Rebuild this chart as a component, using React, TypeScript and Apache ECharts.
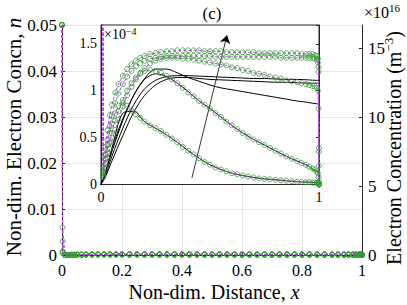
import React, { useEffect, useRef } from 'react';
import * as echarts from 'echarts';

// Shared x positions of the marker series (non-dim. distance)
const xs = [0, 0.002, 0.01, 0.02, 0.03, 0.04, 0.05, 0.065, 0.08, 0.1, 0.12, 0.14, 0.16, 0.18, 0.2, 0.225, 0.25, 0.275, 0.3, 0.325, 0.35, 0.375, 0.4, 0.425, 0.45, 0.475, 0.5, 0.525, 0.55, 0.575, 0.6, 0.625, 0.65, 0.675, 0.7, 0.725, 0.75, 0.775, 0.8, 0.825, 0.85, 0.875, 0.9, 0.92, 0.94, 0.955, 0.97, 0.98, 0.99, 0.995, 0.998, 0.9995, 1];

// Marker series values, in units of 1e-4 (non-dim. n)
const c1 = [500, 60, 0.2, 0.4, 0.58, 0.74, 0.85, 0.98, 1.07, 1.16, 1.23, 1.28, 1.32, 1.35, 1.37, 1.39, 1.40, 1.41, 1.42, 1.42, 1.43, 1.43, 1.43, 1.43, 1.43, 1.42, 1.42, 1.42, 1.42, 1.41, 1.41, 1.41, 1.41, 1.41, 1.41, 1.40, 1.40, 1.40, 1.40, 1.40, 1.40, 1.40, 1.40, 1.39, 1.39, 1.39, 1.39, 1.38, 1.37, 1.34, 1.25, 0.39, 0];
const c2 = [500, 30, 0.15, 0.32, 0.48, 0.62, 0.73, 0.87, 0.97, 1.07, 1.15, 1.21, 1.26, 1.29, 1.32, 1.34, 1.35, 1.36, 1.37, 1.37, 1.37, 1.37, 1.37, 1.37, 1.37, 1.37, 1.37, 1.36, 1.36, 1.36, 1.36, 1.36, 1.36, 1.36, 1.36, 1.36, 1.36, 1.36, 1.36, 1.35, 1.35, 1.35, 1.35, 1.35, 1.35, 1.35, 1.35, 1.34, 1.33, 1.30, 1.20, 0.35, 0];
const c3 = [500, 8, 0.08, 0.18, 0.28, 0.38, 0.46, 0.58, 0.69, 0.83, 0.95, 1.04, 1.12, 1.19, 1.24, 1.29, 1.32, 1.34, 1.35, 1.35, 1.35, 1.34, 1.34, 1.33, 1.32, 1.31, 1.30, 1.29, 1.28, 1.27, 1.25, 1.24, 1.22, 1.21, 1.19, 1.18, 1.17, 1.15, 1.14, 1.13, 1.11, 1.10, 1.09, 1.08, 1.07, 1.06, 1.05, 1.05, 1.03, 1.00, 0.81, 0.2, 0];
const c4 = [500, 6, 0.1, 0.22, 0.34, 0.45, 0.55, 0.68, 0.78, 0.9, 1.0, 1.08, 1.14, 1.18, 1.21, 1.22, 1.21, 1.19, 1.16, 1.12, 1.08, 1.03, 0.98, 0.94, 0.89, 0.85, 0.81, 0.76, 0.72, 0.67, 0.63, 0.59, 0.55, 0.51, 0.48, 0.45, 0.42, 0.39, 0.36, 0.33, 0.30, 0.275, 0.25, 0.23, 0.21, 0.19, 0.17, 0.16, 0.14, 0.12, 0.08, 0.03, 0];
const c5 = [500, 5, 0.12, 0.28, 0.42, 0.55, 0.65, 0.76, 0.84, 0.87, 0.84, 0.79, 0.75, 0.71, 0.67, 0.63, 0.60, 0.57, 0.53, 0.49, 0.45, 0.40, 0.36, 0.32, 0.28, 0.24, 0.21, 0.18, 0.16, 0.14, 0.12, 0.11, 0.095, 0.085, 0.075, 0.065, 0.06, 0.055, 0.05, 0.045, 0.04, 0.035, 0.03, 0.03, 0.025, 0.025, 0.02, 0.02, 0.02, 0.02, 0.015, 0.01, 0];

// Solid black model curves (units of 1e-4)
const kx = [0, 0.02, 0.05, 0.1, 0.15, 0.2, 0.25, 0.3, 0.35, 0.4, 0.45, 0.5, 0.55, 0.6, 0.65, 0.7, 0.75, 0.8, 0.85, 0.9, 0.95, 0.99, 1];
const k1 = [0, 0.12, 0.38, 0.70, 0.95, 1.13, 1.23, 1.23, 1.19, 1.14, 1.10, 1.06, 1.03, 1.01, 0.99, 0.97, 0.95, 0.93, 0.91, 0.89, 0.875, 0.86, 0.86];
const k2 = [0, 0.10, 0.30, 0.60, 0.85, 1.02, 1.11, 1.15, 1.16, 1.16, 1.155, 1.15, 1.145, 1.14, 1.135, 1.13, 1.13, 1.125, 1.12, 1.12, 1.115, 1.11, 1.11];
const k3 = [0, 0.08, 0.25, 0.52, 0.77, 0.95, 1.06, 1.12, 1.14, 1.14, 1.13, 1.12, 1.115, 1.11, 1.105, 1.10, 1.095, 1.09, 1.09, 1.085, 1.08, 1.08, 1.08];
const k4 = [0, 0.12, 0.35, 0.68, 0.95, 1.12, 1.18, 1.15, 1.08, 0.99, 0.89, 0.81, 0.72, 0.63, 0.55, 0.48, 0.42, 0.36, 0.30, 0.25, 0.20, 0.14, 0.14];
const k5 = [0, 0.12, 0.38, 0.76, 0.78, 0.67, 0.60, 0.53, 0.45, 0.36, 0.28, 0.21, 0.16, 0.12, 0.095, 0.075, 0.06, 0.05, 0.04, 0.03, 0.025, 0.02, 0.02];

// Arrow annotation (inset data coords)
const arrowFrom = [0.417, 0.07];
const arrowTo = [0.578, 1.59];

export default function App() {
  const ref = useRef<HTMLDivElement>(null);
  useEffect(() => {
    const chart = echarts.init(ref.current!, null, { renderer: 'svg' });
    const serif = 'Liberation Serif';
    const ax = '#262626';
    const green = '#2f9e2f';
    const magenta = '#c83cf0';
    const grid = '#e6e6e6';
    const circles = [c1, c2, c3, c4, c5];
    const blacks = [k1, k2, k3, k4, k5];
    const series: any[] = [];
    const markerSeries = (vals: number[], xi: number, yi: number, scale: number, z: number) => ({
      type: 'line', xAxisIndex: xi, yAxisIndex: yi, z, silent: true,
      data: xs.map((x, i) => [x, vals[i] * scale]),
      symbol: 'circle', symbolSize: 5,
      lineStyle: { color: magenta, width: 1, type: [3, 2] },
      itemStyle: { color: 'rgba(0,0,0,0)', borderColor: green, borderWidth: 0.8 },
    });
    circles.forEach((v) => series.push(markerSeries(v, 0, 0, 1e-4, 2)));
    blacks.forEach((v) => series.push({
      type: 'line', xAxisIndex: 1, yAxisIndex: 2, z: 5, silent: true,
      data: kx.map((x, i) => [x, v[i]]), showSymbol: false, smooth: 0.3,
      lineStyle: { color: '#000', width: 1 },
    }));
    circles.forEach((v) => series.push(markerSeries(v, 1, 2, 1, 6)));
    series.push({
      type: 'line', xAxisIndex: 1, yAxisIndex: 2, z: 7, data: [], silent: true,
      markLine: {
        silent: true, symbol: ['none', 'arrow'], symbolSize: 8,
        lineStyle: { color: '#000', width: 0.8, type: 'solid' },
        label: { show: false },
        data: [[{ coord: arrowFrom }, { coord: arrowTo }]],
      },
    });

    const tickLabel = (size: number) => ({ fontFamily: serif, fontSize: size, color: '#000' });
    const nameRich = (size: number) => ({
      n: { fontFamily: serif, fontSize: size, fill: '#000' },
      i: { fontFamily: serif, fontSize: size, fontStyle: 'italic', fill: '#000' },
    });
    chart.setOption({
      animation: false,
      grid: [
        { left: 62, top: 25, width: 300, height: 230, show: false },
        { left: 101, top: 25, width: 218, height: 159.5, show: true, z: 3, backgroundColor: '#fff', borderColor: ax, borderWidth: 1 },
      ],
      xAxis: [
        {
          gridIndex: 0, type: 'value', min: 0, max: 1, interval: 0.2,
          axisLine: { lineStyle: { color: ax } },
          axisTick: { inside: true, length: 3, lineStyle: { color: ax } },
          axisLabel: { ...tickLabel(16), margin: 7 },
          splitLine: { show: true, lineStyle: { color: grid } },
        },
        {
          gridIndex: 1, type: 'value', min: 0, max: 1, interval: 1, z: 4,
          axisLine: { lineStyle: { color: ax } },
          axisTick: { inside: true, length: 3, lineStyle: { color: ax } },
          axisLabel: { ...tickLabel(14), margin: 6 },
          splitLine: { show: false },
        },
      ],
      yAxis: [
        {
          gridIndex: 0, type: 'value', min: 0, max: 0.05, interval: 0.01, position: 'left',
          axisLine: { show: true, lineStyle: { color: ax } },
          axisTick: { show: true, inside: true, length: 3, lineStyle: { color: ax } },
          axisLabel: { ...tickLabel(17), margin: 5 },
          splitLine: { show: true, lineStyle: { color: grid } },
        },
        {
          gridIndex: 0, type: 'value', min: 0, max: 16.667, interval: 5, position: 'right',
          axisLine: { show: true, lineStyle: { color: ax } },
          axisTick: { show: true, inside: true, length: 3, lineStyle: { color: ax } },
          axisLabel: { ...tickLabel(17), margin: 6, showMaxLabel: false },
          splitLine: { show: false },
        },
        {
          gridIndex: 1, type: 'value', min: 0, max: 1.7, interval: 0.5, position: 'left', z: 4,
          axisLine: { show: true, lineStyle: { color: ax } },
          axisTick: { show: true, inside: true, length: 3, lineStyle: { color: ax } },
          axisLabel: { ...tickLabel(14), margin: 4, showMaxLabel: false },
          splitLine: { show: false },
        },
        {
          gridIndex: 1, type: 'value', min: 0, max: 1.7, interval: 0.5, position: 'right', z: 4,
          axisLine: { show: true, lineStyle: { color: ax } },
          axisTick: { show: true, inside: true, length: 3, lineStyle: { color: ax } },
          axisLabel: { show: false },
          splitLine: { show: false },
        },
      ],
      graphic: [
        {
          type: 'text', x: 214, y: 292, z: 10,
          style: { text: '{n|Non-dim. Distance, }{i|x}', align: 'center', verticalAlign: 'middle', rich: nameRich(20) },
        },
        {
          type: 'text', x: 14, y: 137, z: 10, rotation: Math.PI / 2,
          style: { text: '{n|Non-dim. Electron Concn, }{i|n}', align: 'center', verticalAlign: 'middle', rich: nameRich(21) },
        },
        {
          type: 'text', x: 394, y: 148, z: 10, rotation: Math.PI / 2,
          style: {
            text: '{n|Electron Concentration (m}{s|−3}{n|)}', align: 'center', verticalAlign: 'middle',
            rich: { n: { fontFamily: serif, fontSize: 20, fill: '#000', lineHeight: 24 }, s: { fontFamily: serif, fontSize: 13, fill: '#000', verticalAlign: 'top' } },
          },
        },
        {
          type: 'text', x: 212, y: 13, z: 10,
          style: { text: '(c)', align: 'center', verticalAlign: 'middle', fontFamily: serif, fontSize: 17, fill: '#000' },
        },
        {
          type: 'text', x: 364, y: 12, z: 10,
          style: {
            text: '{n|×10}{s|16}', align: 'left', verticalAlign: 'middle',
            rich: { n: { fontFamily: serif, fontSize: 16, fill: '#000', lineHeight: 19 }, s: { fontFamily: serif, fontSize: 11, fill: '#000', verticalAlign: 'top' } },
          },
        },
        {
          type: 'text', x: 104, y: 34, z: 10,
          style: {
            text: '{n|×10}{s|−4}', align: 'left', verticalAlign: 'middle',
            rich: { n: { fontFamily: serif, fontSize: 14, fill: '#000', lineHeight: 16 }, s: { fontFamily: serif, fontSize: 10, fill: '#000', verticalAlign: 'top' } },
          },
        },
      ],
      series,
    });
    return () => chart.dispose();
  }, []);
  return <div ref={ref} style={{ width: 407, height: 305, position: 'absolute', left: 0, top: 0 }} />;
}
